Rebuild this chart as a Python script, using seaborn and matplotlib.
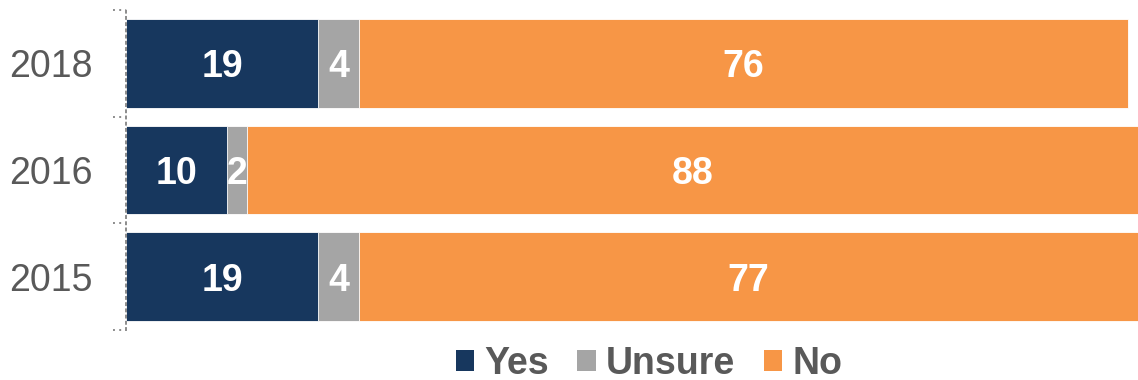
import matplotlib
matplotlib.use("Agg")
import matplotlib.pyplot as plt
import matplotlib.transforms as mtransforms
from matplotlib.patches import Patch
import numpy as np
import pandas as pd
import seaborn as sns

years = ["2018", "2016", "2015"]
yes = [19, 10, 19]
unsure = [4, 2, 4]
no = [76, 88, 77]

series_names = ["Yes", "Unsure", "No"]
colors = ["#17375E", "#A5A5A5", "#F79646"]
text_gray = "#595959"
axis_gray = "#8C8C8C"

sns.set_theme(style="white")
plt.rcParams["font.family"] = ["Liberation Sans", "DejaVu Sans"]

df = pd.DataFrame({"year": years, "Yes": yes, "Unsure": unsure, "No": no})
df["c_yes"] = df["Yes"]
df["c_unsure"] = df["Yes"] + df["Unsure"]
df["c_no"] = df["Yes"] + df["Unsure"] + df["No"]

fig = plt.figure(figsize=(11.38, 3.8), dpi=100)
ax = fig.add_axes([126 / 1138, 50 / 380, 1 - 126 / 1138, 320 / 380])

# stacked bars: draw cumulative totals from the back to the front
for col, color in zip(["c_no", "c_unsure", "c_yes"], colors[::-1]):
    sns.barplot(data=df, x=col, y="year", order=years, color=color,
                orient="h", width=0.83, edgecolor="white", linewidth=0.6,
                saturation=1, ax=ax)

# value labels centred in each segment
for i, year in enumerate(years):
    left = 0
    for vals in (yes, unsure, no):
        v = vals[i]
        ax.text(left + v / 2, i, str(v), ha="center", va="center_baseline",
                color="white", fontsize=27, fontweight="bold")
        left += v

ax.set_xlim(0, 100)
ax.set_ylim(len(years) - 0.5, -0.5)
ax.set_xlabel("")
ax.set_ylabel("")
ax.set_xticks([])
ax.tick_params(axis="y", which="major", length=0, pad=24,
               labelsize=27, labelcolor=text_gray)

for side in ["top", "right", "bottom"]:
    ax.spines[side].set_visible(False)
ax.spines["left"].set_color(axis_gray)
ax.spines["left"].set_linewidth(1.4)
ax.spines["left"].set_linestyle((0, (1, 2.2)))

# dotted category-boundary ticks on the left axis
trans = mtransforms.blended_transform_factory(ax.transAxes, ax.transData)
tick_len = 13 / (1138 - 126)
for b in np.arange(len(years) + 1) - 0.5:
    ax.plot([-tick_len, 0], [b, b], transform=trans, clip_on=False,
            color=axis_gray, linewidth=1.4, linestyle=(0, (1, 2.2)))

handles = [Patch(facecolor=c, edgecolor="none") for c in colors]
leg = fig.legend(handles, series_names, loc="center",
                 bbox_to_anchor=(0.5703, 0.042), ncol=3, frameon=False,
                 handlelength=0.5, handleheight=0.5, handletextpad=0.27,
                 columnspacing=0.75, borderpad=0.1,
                 prop={"size": 27, "weight": "bold"})
for txt in leg.get_texts():
    txt.set_color(text_gray)

fig.savefig("out.png", dpi=100)
